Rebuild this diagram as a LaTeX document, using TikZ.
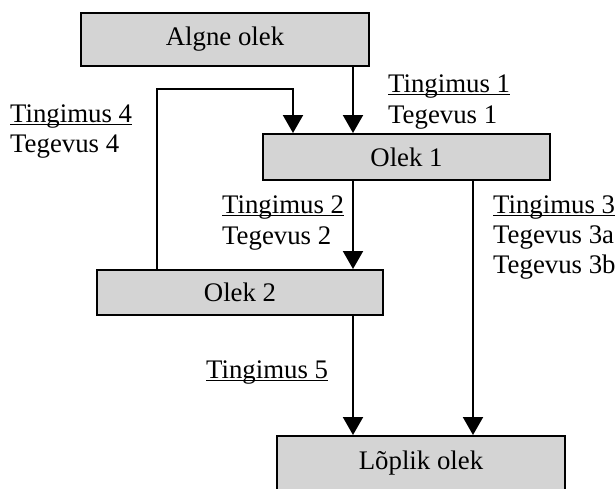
\documentclass[tikz,border=0pt]{standalone}
\usepackage{fontspec}
\setmainfont{Liberation Serif}
\usetikzlibrary{arrows.meta}
\newcommand\ulbl[1]{\setbox0\hbox{#1}\rlap{\rule[-3pt]{\wd0}{1.4pt}}\box0}
\tikzset{
  statebox/.style={draw=black, fill=boxgray, line width=2pt, inner sep=0pt, anchor=center,
    font=\fontsize{26.8}{32}\selectfont},
  lbl/.style={anchor=base west, inner sep=0pt, font=\fontsize{26.8}{32}\selectfont},
  arr/.style={line width=2pt, -{Triangle[width=20pt,length=18pt]}},
}
\definecolor{boxgray}{RGB}{212,212,212}
\begin{document}
\begin{tikzpicture}[x=1pt,y=-1pt]
\clip (0,0) rectangle (616,488);
\fill[white] (0,0) rectangle (616,488);
% states
\node[statebox, minimum width=288pt, minimum height=53pt] (algne) at (225,39.5) {Algne olek};
\node[statebox, minimum width=287pt, minimum height=46pt] (olek1) at (406.5,157) {Olek 1};
\node[statebox, minimum width=286pt, minimum height=45pt] (olek2) at (240,292.5) {Olek 2};
\node[statebox, minimum width=288pt, minimum height=55pt] (lopp) at (421,463.5) {Lõplik olek};
% helper coordinates
\coordinate (cA) at (353,0);
\coordinate (cB) at (473,0);
\coordinate (c4a) at (157,89);
\coordinate (c4b) at (293,89);
% connectors
\draw[arr] (algne.south -| cA) -- (olek1.north -| cA);
\draw[arr] (olek2.north -| c4a) -- (c4a) -- (c4b) -- (olek1.north -| c4b);
\draw[arr] (olek1.south -| cA) -- (olek2.north -| cA);
\draw[arr] (olek1.south -| cB) -- (lopp.north -| cB);
\draw[arr] (olek2.south -| cA) -- (lopp.north -| cA);
% labels
\node[lbl] (t1) at (388,92) {\ulbl{Tingimus 1}};
\node[lbl] (g1) at (388,123) {Tegevus 1};
\node[lbl] (t4) at (10,122) {\ulbl{Tingimus 4}};
\node[lbl] (g4) at (10,152) {Tegevus 4};
\node[lbl] (t2) at (222,213) {\ulbl{Tingimus 2}};
\node[lbl] (g2) at (222,244) {Tegevus 2};
\node[lbl] (t3) at (493,213) {\ulbl{Tingimus 3}};
\node[lbl] (g3a) at (493,243) {Tegevus 3a};
\node[lbl] (g3b) at (493,273) {Tegevus 3b};
\node[lbl] (t5) at (206,378) {\ulbl{Tingimus 5}};
\end{tikzpicture}
\end{document}
